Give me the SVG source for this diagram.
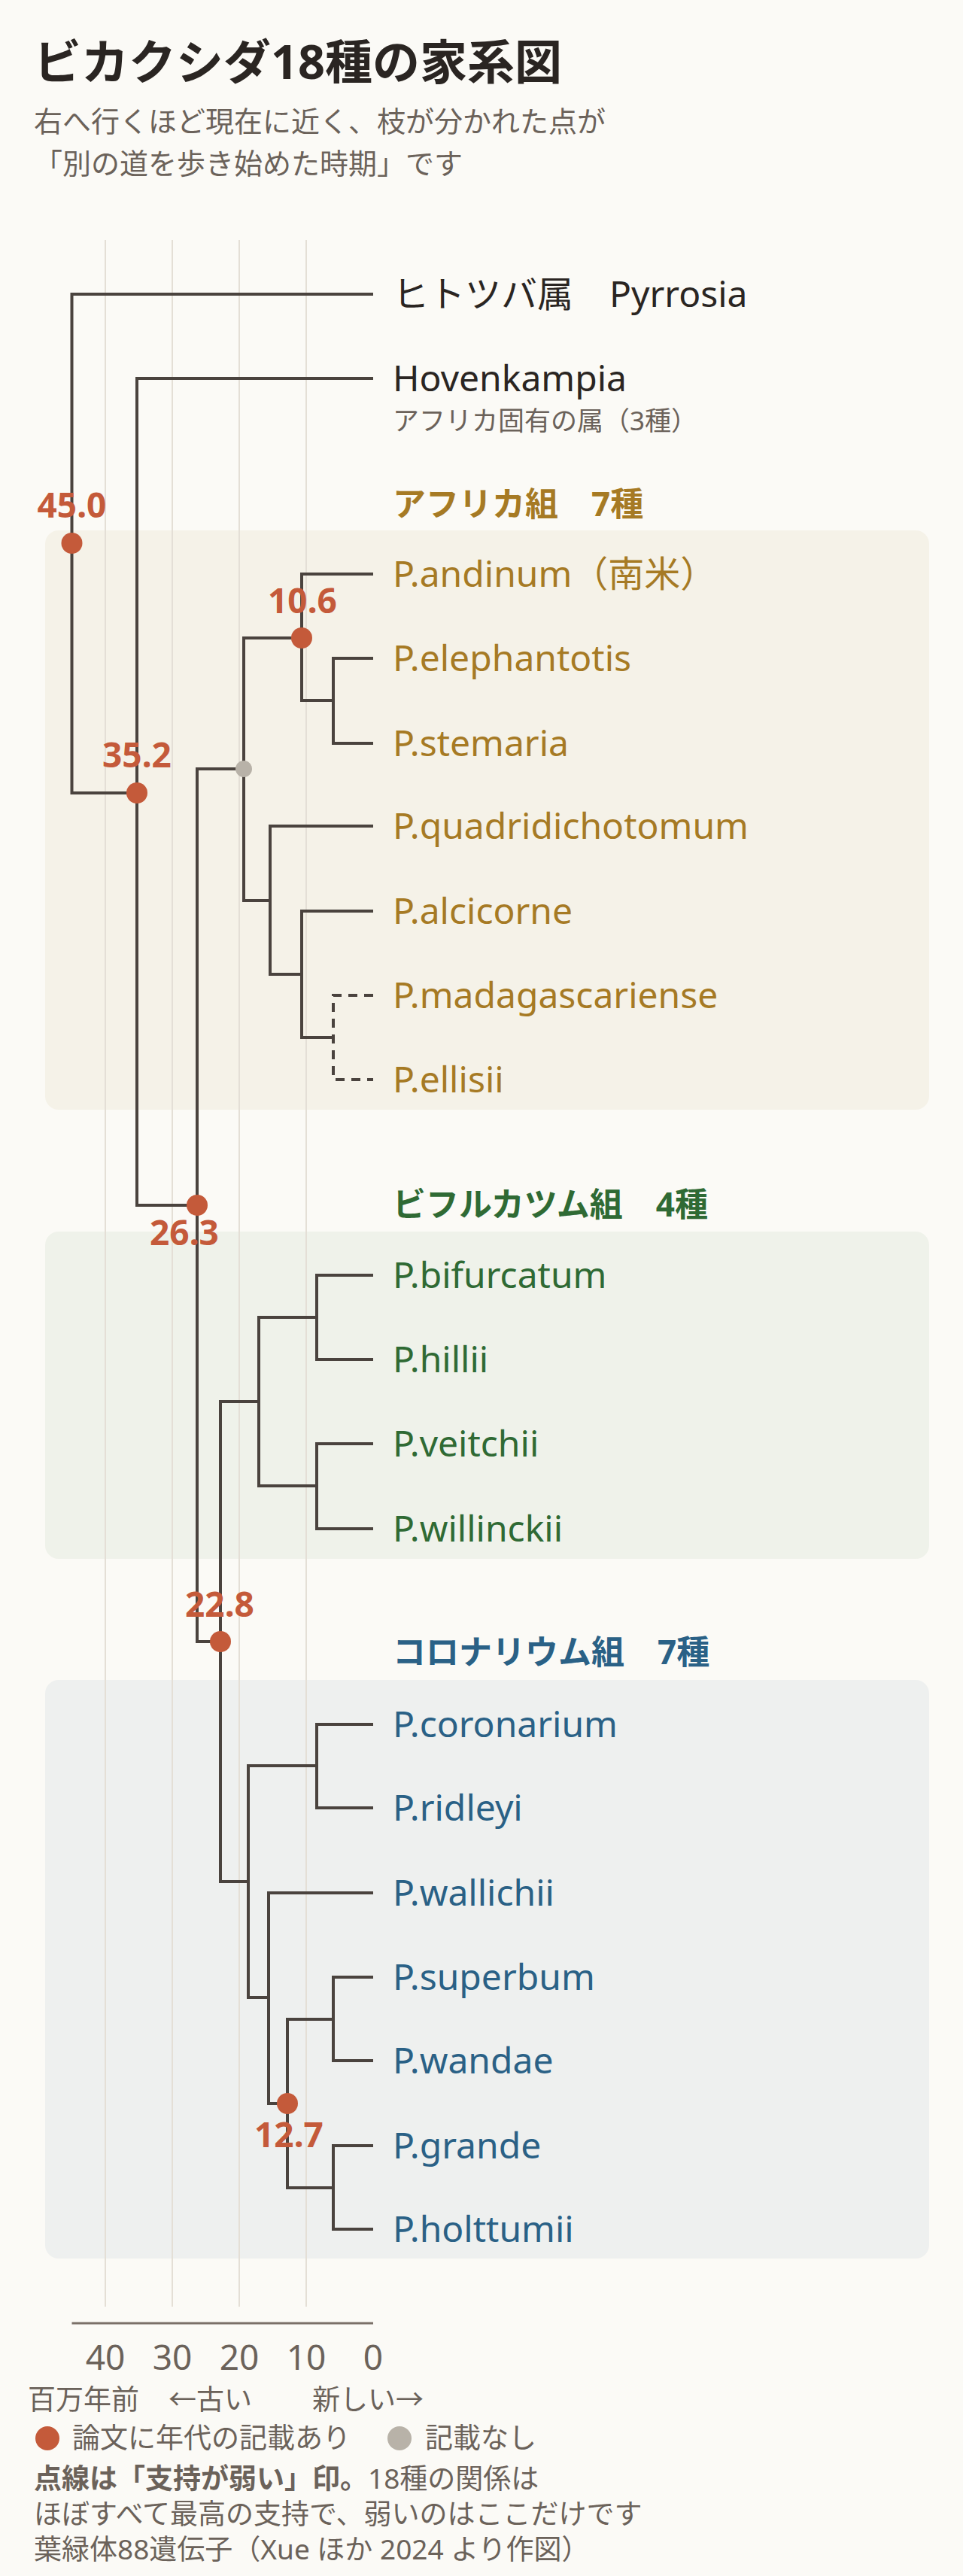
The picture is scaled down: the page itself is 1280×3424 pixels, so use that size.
<svg xmlns="http://www.w3.org/2000/svg" width="1280" height="3424" viewBox="0 0 1280 3424">
<style>
text{font-family:"Noto Sans","Noto Sans CJK JP",sans-serif}
.sp{font-size:48px}
.af{fill:#A67A24}.bi{fill:#2F6A34}.co{fill:#2A6186}
.dk{fill:#2A2522}.gr{fill:#6B625A}
.hd{font-size:44px;font-weight:700}
.num{font-size:46px;font-weight:700;fill:#C45A3A;text-anchor:middle}
.br{fill:none;stroke:#4A433E;stroke-width:4}
.grid{stroke:#E4DFD6;stroke-width:2}
.tick{font-size:46px;fill:#6B625A;text-anchor:middle}
.sm{font-size:37px;fill:#6B625A}
</style>
<rect width="1280" height="3424" fill="#FBFAF6"/>
<g id="header">
<text x="45" y="105" font-size="63" font-weight="700" class="dk">ビカクシダ18種の家系図</text>
<text x="45" y="175" font-size="38" class="gr">右へ行くほど現在に近く、枝が分かれた点が</text>
<text x="45" y="231" font-size="38" class="gr">「別の道を歩き始めた時期」です</text>
</g>
<g id="groups">
<rect x="60" y="705" width="1175" height="770" rx="18" fill="#F5F2E8"/>
<rect x="60" y="1637" width="1175" height="435" rx="18" fill="#EFF2EA"/>
<rect x="60" y="2233" width="1175" height="769" rx="18" fill="#EEF0EF"/>
</g>
<g id="grid">
<line class="grid" x1="140" y1="319" x2="140" y2="3066"/>
<line class="grid" x1="229" y1="319" x2="229" y2="3066"/>
<line class="grid" x1="318" y1="319" x2="318" y2="3066"/>
<line class="grid" x1="407" y1="319" x2="407" y2="3066"/>
</g>
<g id="connectors">
<path class="br" d="M496,391 H95.5 V1054 H182"/>
<path class="br" d="M496,503 H182 V1602 H262"/>
<path class="br" d="M324,1022 H262 V2182 H293"/>
<path class="br" d="M401,848 H324 V1197 H359"/>
<path class="br" d="M496,763 H401 V931 H443"/>
<path class="br" d="M496,875 H443 V988 H496"/>
<path class="br" d="M496,1098 H359 V1295 H401"/>
<path class="br" d="M496,1211 H401 V1379 H443"/>
<path class="br" stroke-dasharray="12 9" d="M496,1323 H443 V1435 H496"/>
<path class="br" d="M344,1863 H293 V2501 H330"/>
<path class="br" d="M421,1751 H344 V1975 H421"/>
<path class="br" d="M496,1695 H421 V1807 H496"/>
<path class="br" d="M496,1919 H421 V2032 H496"/>
<path class="br" d="M421,2347 H330 V2655 H357"/>
<path class="br" d="M496,2292 H421 V2403 H496"/>
<path class="br" d="M496,2516 H357 V2796 H382"/>
<path class="br" d="M443,2684 H382 V2908 H443"/>
<path class="br" d="M496,2628 H443 V2739 H496"/>
<path class="br" d="M496,2852 H443 V2963 H496"/>
</g>
<g id="dots" fill="#C45A3A">
<circle cx="95.5" cy="722" r="14"/>
<circle cx="182" cy="1054" r="14"/>
<circle cx="401" cy="848" r="14"/>
<circle cx="324" cy="1022" r="11" fill="#B8B2A8"/>
<circle cx="262" cy="1602" r="14"/>
<circle cx="293" cy="2182" r="14"/>
<circle cx="382" cy="2796" r="14"/>
</g>
<g id="ages">
<text class="num" x="95.5" y="688">45.0</text>
<text class="num" x="402" y="815">10.6</text>
<text class="num" x="182" y="1020">35.2</text>
<text class="num" x="245" y="1655">26.3</text>
<text class="num" x="292" y="2149">22.8</text>
<text class="num" x="384" y="2854">12.7</text>
</g>
<g id="n-pyrrosia"><text class="sp dk" x="522" y="408">ヒトツバ属　Pyrrosia</text></g>
<g id="n-hovenkampia"><text class="sp dk" x="522" y="520">Hovenkampia</text><text x="522" y="572" font-size="35" class="gr">アフリカ固有の属（3種）</text></g>
<g id="h-africa"><text class="hd af" x="522" y="686">アフリカ組　7種</text></g>
<g id="n-andinum"><text class="sp af" x="522" y="780">P.andinum（南米）</text></g>
<g id="n-elephantotis"><text class="sp af" x="522" y="892">P.elephantotis</text></g>
<g id="n-stemaria"><text class="sp af" x="522" y="1005">P.stemaria</text></g>
<g id="n-quadridichotomum"><text class="sp af" x="522" y="1115">P.quadridichotomum</text></g>
<g id="n-alcicorne"><text class="sp af" x="522" y="1228">P.alcicorne</text></g>
<g id="n-madagascariense"><text class="sp af" x="522" y="1340">P.madagascariense</text></g>
<g id="n-ellisii"><text class="sp af" x="522" y="1452">P.ellisii</text></g>
<g id="h-bifurcatum"><text class="hd bi" x="522" y="1617">ビフルカツム組　4種</text></g>
<g id="n-bifurcatum"><text class="sp bi" x="522" y="1712">P.bifurcatum</text></g>
<g id="n-hillii"><text class="sp bi" x="522" y="1824">P.hillii</text></g>
<g id="n-veitchii"><text class="sp bi" x="522" y="1936">P.veitchii</text></g>
<g id="n-willinckii"><text class="sp bi" x="522" y="2049">P.willinckii</text></g>
<g id="h-coronarium"><text class="hd co" x="522" y="2212">コロナリウム組　7種</text></g>
<g id="n-coronarium"><text class="sp co" x="522" y="2309">P.coronarium</text></g>
<g id="n-ridleyi"><text class="sp co" x="522" y="2420">P.ridleyi</text></g>
<g id="n-wallichii"><text class="sp co" x="522" y="2533">P.wallichii</text></g>
<g id="n-superbum"><text class="sp co" x="522" y="2645">P.superbum</text></g>
<g id="n-wandae"><text class="sp co" x="522" y="2756">P.wandae</text></g>
<g id="n-grande"><text class="sp co" x="522" y="2869">P.grande</text></g>
<g id="n-holttumii"><text class="sp co" x="522" y="2980">P.holttumii</text></g>
<g id="axis">
<line x1="95.5" y1="3088" x2="496" y2="3088" stroke="#7A7068" stroke-width="3"/>
<text class="tick" x="140" y="3150">40</text>
<text class="tick" x="229" y="3150">30</text>
<text class="tick" x="318" y="3150">20</text>
<text class="tick" x="407" y="3150">10</text>
<text class="tick" x="496" y="3150">0</text>
<text class="sm" x="37" y="3203">百万年前</text>
<text class="sm" x="224" y="3203">←古い</text>
<text class="sm" x="415" y="3203">新しい→</text>
</g>
<g id="legend">
<circle cx="63" cy="3241" r="16" fill="#C45A3A"/>
<text class="sm" x="96" y="3254">論文に年代の記載あり</text>
<circle cx="531" cy="3241" r="16" fill="#B8B2A8"/>
<text class="sm" x="565" y="3254">記載なし</text>
</g>
<g id="notes">
<text class="sm" x="45" y="3308"><tspan font-weight="700">点線は「支持が弱い」印。</tspan>18種の関係は</text>
<text class="sm" x="45" y="3355">ほぼすべて最高の支持で、弱いのはここだけです</text>
<text class="sm" x="45" y="3402">葉緑体88遺伝子（Xue ほか 2024 より作図）</text>
</g>
</svg>
